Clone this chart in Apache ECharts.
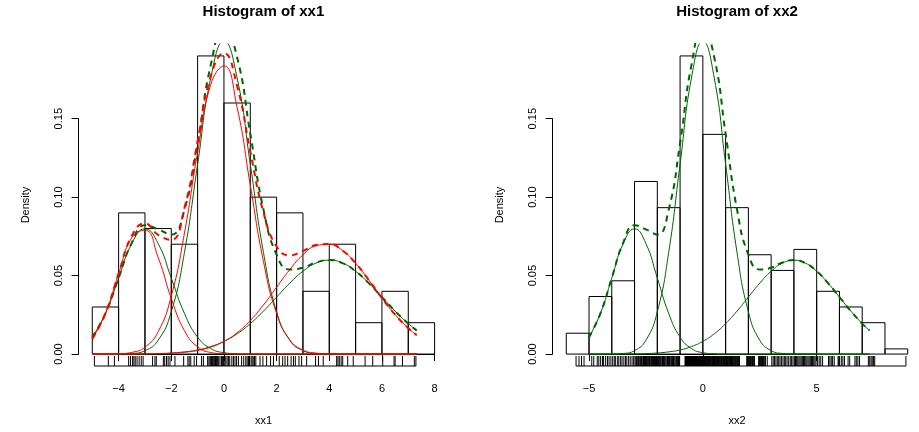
<!DOCTYPE html>
<html><head><meta charset="utf-8">
<script src="https://cdn.jsdelivr.net/npm/echarts@6/dist/echarts.min.js"></script>
<style>html,body{margin:0;padding:0;background:#fff}#c{width:919px;height:432px}</style>
</head><body><div id="c"></div>
<script>
// ---------- data ----------
const titles = ['Histogram of xx1', 'Histogram of xx2'];
const xNames = ['xx1', 'xx2'];
const yName = 'Density';

const binEdges1 = [-5,-4,-3,-2,-1,0,1,2,3,4,5,6,7,8];
const density1  = [0.03,0.09,0.08,0.07,0.19,0.16,0.10,0.09,0.04,0.07,0.02,0.04,0.02];

const binEdges2 = [-6,-5,-4,-3,-2,-1,0,1,2,3,4,5,6,7,8,9];
const density2  = [0.0133,0.0367,0.0467,0.1100,0.0933,0.1900,0.1400,0.0933,0.0633,0.0533,0.0667,0.0400,0.0300,0.0200,0.0033];

const xTicks1 = [-4,-2,0,2,4,6,8];
const xTicks2 = [-5,0,5];
const yTicks  = [0,0.05,0.10,0.15];

const curveX = [-5,-4.5,-4,-3.5,-3,-2.5,-2,-1.5,-1,-0.5,0,0.5,1,1.5,2,2.5,3,3.5,4,4.5,5,5.5,6,6.5,7,7.32];
const greenComp1 = [0.0108,0.0259,0.0484,0.0704,0.0798,0.0704,0.0484,0.0259,0.0108,0.0035,0.0009,0.0002,0,0,0,0,0,0,0,0,0,0,0,0,0,0];
const greenComp2 = [0,0,0.0001,0.0004,0.0022,0.0088,0.0270,0.0648,0.1210,0.1760,0.1995,0.1760,0.1210,0.0648,0.0270,0.0088,0.0022,0.0004,0.0001,0,0,0,0,0,0,0];
const greenComp3 = [0,0,0,0.0001,0.0001,0.0003,0.0007,0.0014,0.0026,0.0048,0.0081,0.0129,0.0194,0.0274,0.0363,0.0452,0.0528,0.0580,0.0598,0.0580,0.0528,0.0452,0.0363,0.0274,0.0194,0.0151];
const greenMix   = [0.0108,0.0259,0.0485,0.0709,0.0821,0.0795,0.0761,0.0920,0.1344,0.1843,0.2085,0.1892,0.1404,0.0922,0.0633,0.0539,0.0550,0.0584,0.0599,0.0580,0.0528,0.0452,0.0363,0.0274,0.0194,0.0151];
const redComp1 = [0.0097,0.0260,0.0512,0.0742,0.0789,0.0616,0.0354,0.0149,0.0046,0.0010,0.0002,0,0,0,0,0,0,0,0,0,0,0,0,0,0,0];
const redComp2 = [0,0,0.0002,0.0011,0.0044,0.0142,0.0370,0.0771,0.1286,0.1718,0.1836,0.1571,0.1077,0.0590,0.0259,0.0091,0.0026,0.0006,0.0001,0,0,0,0,0,0,0];
const redComp3 = [0,0,0,0,0.0001,0.0002,0.0005,0.0011,0.0023,0.0044,0.0081,0.0136,0.0214,0.0313,0.0426,0.0538,0.0632,0.0690,0.0700,0.0660,0.0579,0.0472,0.0357,0.0252,0.0165,0.0121];
const redMix   = [0.0097,0.0260,0.0514,0.0753,0.0833,0.0760,0.0728,0.0931,0.1355,0.1772,0.1918,0.1708,0.1291,0.0904,0.0685,0.0629,0.0657,0.0695,0.0701,0.0660,0.0579,0.0472,0.0357,0.0252,0.0165,0.0121];

const rug1 = [-4.92,-4.39,-4.16,
 -3.62,-3.55,-3.47,-3.42,-3.37,-3.30,-3.22,-3.14,-3.07,
 -2.71,-2.62,-2.57,-2.30,-2.25,-2.18,-2.12,-2.05,
 -1.86,-1.53,-1.37,-1.32,-1.26,-1.13,-1.04,
 -0.85,-0.78,-0.62,-0.57,-0.53,-0.50,-0.47,-0.44,-0.41,-0.38,-0.35,-0.32,-0.28,-0.24,-0.20,-0.15,-0.09,-0.05,-0.02,
 0.03,0.07,0.12,0.17,0.22,0.30,0.36,0.42,0.48,0.55,0.67,0.75,0.83,0.88,0.93,0.97,
 1.03,1.07,1.11,1.16,1.21,1.37,1.48,1.62,1.77,1.88,
 2.10,2.23,2.32,2.42,2.55,2.64,2.71,2.85,2.95,
 3.14,3.48,3.59,3.77,
 4.28,4.33,4.38,4.45,4.51,4.70,4.91,
 5.36,5.65,
 6.03,6.46,6.50,6.78,
 7.23,7.29];

const rug2 = [-5.57,-5.44,-5.33,-5.22,
 -4.88,-4.79,-4.64,-4.57,-4.49,-4.41,-4.36,-4.27,-4.19,-4.12,-4.04,
 -3.96,-3.89,-3.83,-3.74,-3.69,-3.61,-3.55,-3.47,-3.40,-3.34,-3.26,-3.19,-3.11,-3.04,
 -2.98,-2.94,-2.91,-2.86,-2.83,-2.80,-2.76,-2.73,-2.69,-2.66,-2.61,-2.58,-2.56,-2.52,-2.48,-2.45,-2.42,-2.38,-2.35,-2.33,
 -2.29,-2.26,-2.22,-2.20,-2.17,-2.14,-2.12,-2.09,-2.07,-2.05,-2.03,-2.02,-2.01,
 -1.98,-1.95,-1.91,-1.87,-1.84,-1.80,-1.77,-1.73,-1.69,-1.66,-1.62,-1.58,-1.55,-1.51,-1.47,-1.44,-1.40,-1.37,-1.33,-1.29,
 -1.26,-1.22,-1.18,-1.15,-1.11,-1.07,-1.04,-1.02,
 -0.78,-0.77,-0.75,-0.74,-0.72,-0.71,-0.70,-0.68,-0.67,-0.65,-0.64,-0.63,-0.61,-0.60,-0.58,-0.57,-0.56,-0.54,-0.53,-0.51,
 -0.50,-0.49,-0.47,-0.46,-0.44,-0.43,-0.42,-0.40,-0.39,-0.37,-0.36,-0.35,-0.33,-0.32,-0.30,-0.29,-0.28,-0.26,-0.25,-0.23,
 -0.22,-0.21,-0.19,-0.18,-0.16,-0.15,-0.14,-0.12,-0.11,-0.09,-0.08,-0.07,-0.06,-0.05,-0.04,-0.03,-0.01,
 0.01,0.03,0.05,0.07,0.09,0.11,0.13,0.15,0.17,0.19,0.21,0.24,0.26,0.28,0.30,0.33,0.35,0.37,0.40,0.42,
 0.44,0.47,0.49,0.51,0.54,0.56,0.59,0.61,0.64,0.66,0.69,0.71,0.74,0.76,0.79,0.82,0.85,0.88,0.91,0.94,0.96,0.99,
 1.02,1.04,1.07,1.09,1.11,1.14,1.16,1.19,1.21,1.23,1.26,1.28,1.31,1.33,1.36,1.38,1.41,1.44,1.47,1.50,
 1.53,1.56,1.59,1.61,1.93,1.95,1.97,1.99,
 2.02,2.04,2.07,2.09,2.12,2.15,2.18,2.21,2.24,2.27,2.45,2.49,2.53,2.58,2.62,2.66,2.70,2.75,2.83,
 3.03,3.09,3.15,3.21,3.27,3.33,3.39,3.45,3.52,3.58,3.64,3.70,3.77,3.84,3.90,3.96,
 4.02,4.07,4.12,4.17,4.22,4.27,4.32,4.37,4.42,4.47,4.52,4.57,4.62,4.67,4.72,4.77,4.82,4.87,4.92,4.97,
 5.04,5.11,5.18,5.26,5.52,5.58,5.64,5.70,5.77,5.94,5.97,6.00,
 6.08,6.15,6.22,6.38,6.45,6.68,6.74,6.81,6.88,
 7.27,7.33,7.39,7.44,7.50,7.55,
 8.92];

// ---------- layout / style ----------
const FONT = '"Liberation Sans", Arial, Helvetica, sans-serif';
const GREEN = '#006400', RED = '#ff0000';
const TOP = 44, HEIGHT = 322;
const panels = [
  {left: 78.6, width: 369.7, edges: binEdges1, dens: density1, rug: rug1, ticks: xTicks1,
   curves: [
     {y: greenMix, c: GREEN, dash: true}, {y: greenComp1, c: GREEN}, {y: greenComp2, c: GREEN}, {y: greenComp3, c: GREEN},
     {y: redMix, c: RED, dash: true}, {y: redComp1, c: RED}, {y: redComp2, c: RED}, {y: redComp3, c: RED}
   ]},
  {left: 552.6, width: 368.8, edges: binEdges2, dens: density2, rug: rug2, ticks: xTicks2,
   curves: [
     {y: greenMix, c: GREEN, dash: true}, {y: greenComp1, c: GREEN}, {y: greenComp2, c: GREEN}, {y: greenComp3, c: GREEN}
   ]}
];

const grid = [], xAxis = [], yAxis = [], series = [], graphic = [];
const maxDens = Math.max(...density1, ...density2);
const yMin = -0.04 * maxDens, yMax = maxDens * 1.04;

panels.forEach((p, k) => {
  const e0 = p.edges[0], e1 = p.edges[p.edges.length - 1];
  const ext = (e1 - e0) * 0.04;
  const xMin = e0 - ext, xMax = e1 + ext;
  const xPix = v => p.left + (v - xMin) / (xMax - xMin) * p.width;
  const yPix = v => TOP + (yMax - v) / (yMax - yMin) * HEIGHT;
  const g0 = grid.length;
  grid.push({left: p.left, top: TOP, width: p.width, height: HEIGHT, containLabel: false, outerBoundsMode: 'none'});
  const t0 = p.ticks[0], t1 = p.ticks[p.ticks.length - 1];
  grid.push({left: xPix(t0), top: TOP, width: xPix(t1) - xPix(t0), height: HEIGHT, containLabel: false, outerBoundsMode: 'none'});
  const yt0 = yTicks[0], yt1 = yTicks[yTicks.length - 1];
  grid.push({left: p.left, top: yPix(yt1), width: 50, height: yPix(yt0) - yPix(yt1), containLabel: false, outerBoundsMode: 'none'});

  const hidden = {show: false};
  xAxis.push({gridIndex: g0, type: 'value', min: xMin, max: xMax, name: xNames[k], nameLocation: 'middle', nameGap: 49,
    nameTextStyle: {fontFamily: FONT, fontSize: 11, color: '#000'},
    axisLine: hidden, axisTick: hidden, axisLabel: hidden, splitLine: hidden});
  yAxis.push({gridIndex: g0, type: 'value', min: yMin, max: yMax, name: yName, nameLocation: 'middle', nameGap: 47,
    nameTextStyle: {fontFamily: FONT, fontSize: 11, color: '#000'},
    axisLine: hidden, axisTick: hidden, axisLabel: hidden, splitLine: hidden});
  xAxis.push({gridIndex: g0 + 1, type: 'value', min: t0, max: t1, interval: p.ticks[1] - p.ticks[0],
    axisLine: {show: true, lineStyle: {color: '#000', width: 1}},
    axisTick: {show: true, inside: false, length: 7, lineStyle: {color: '#000', width: 1}},
    axisLabel: {show: true, margin: 17, color: '#000', fontFamily: FONT, fontSize: 11,
      formatter: v => (v < 0 ? '\u2212' : '') + Math.abs(v)},
    splitLine: hidden});
  yAxis.push({gridIndex: g0 + 1, type: 'value', show: false, min: yMin, max: yMax});
  xAxis.push({gridIndex: g0 + 2, type: 'value', show: false, min: 0, max: 1});
  yAxis.push({gridIndex: g0 + 2, type: 'value', min: yt0, max: yt1, interval: yTicks[1] - yTicks[0],
    axisLine: {show: true, lineStyle: {color: '#000', width: 1}},
    axisTick: {show: true, inside: false, length: 7, lineStyle: {color: '#000', width: 1}},
    axisLabel: {show: true, margin: 14, rotate: 90, color: '#000', fontFamily: FONT, fontSize: 11,
      formatter: v => v.toFixed(2)},
    splitLine: hidden});

  series.push({type: 'custom', xAxisIndex: g0, yAxisIndex: g0, clip: false, silent: true,
    data: p.dens.map((d, i) => [p.edges[i], p.edges[i + 1], d]),
    renderItem: (params, api) => {
      const a = api.coord([api.value(0), 0]);
      const b = api.coord([api.value(1), api.value(2)]);
      return {type: 'rect', shape: {x: a[0], y: b[1], width: b[0] - a[0], height: a[1] - b[1]},
        style: {fill: 'none', stroke: '#000', lineWidth: 1}};
    }});
  series.push({type: 'custom', xAxisIndex: g0, yAxisIndex: g0, clip: false, silent: true,
    data: [[Math.min(...p.rug), Math.max(...p.rug)]],
    renderItem: (params, api) => {
      const a = api.coord([api.value(0), yMin]);
      const b = api.coord([api.value(1), yMin]);
      return {type: 'line', shape: {x1: a[0], y1: a[1], x2: b[0], y2: b[1]}, style: {stroke: '#000', lineWidth: 1}};
    }});
  series.push({type: 'custom', xAxisIndex: g0, yAxisIndex: g0, clip: false, silent: true,
    data: p.rug.map(v => [v]),
    renderItem: (params, api) => {
      const a = api.coord([api.value(0), yMin]);
      return {type: 'line', shape: {x1: a[0], y1: a[1], x2: a[0], y2: a[1] - 10}, style: {stroke: '#000', lineWidth: 1}};
    }});
  p.curves.forEach(c => {
    series.push({type: 'line', xAxisIndex: g0, yAxisIndex: g0, silent: true, clip: true,
      data: curveX.map((x, i) => [x, c.y[i]]), showSymbol: false, symbol: 'none', smooth: 0.5,
      lineStyle: {color: c.c, width: c.dash ? 2 : 1, type: c.dash ? [6, 5] : 'solid'}});
  });

  graphic.push({type: 'text', x: p.left + p.width / 2, y: 12,
    style: {text: titles[k], align: 'center', verticalAlign: 'middle', fill: '#000',
      fontFamily: FONT, fontSize: 15, fontWeight: 'bold'}});
});

const chart = echarts.init(document.getElementById('c'), null, {renderer: 'canvas', width: 919, height: 432});
chart.setOption({animation: false, backgroundColor: '#fff', grid, xAxis, yAxis, series, graphic});
</script></body></html>
